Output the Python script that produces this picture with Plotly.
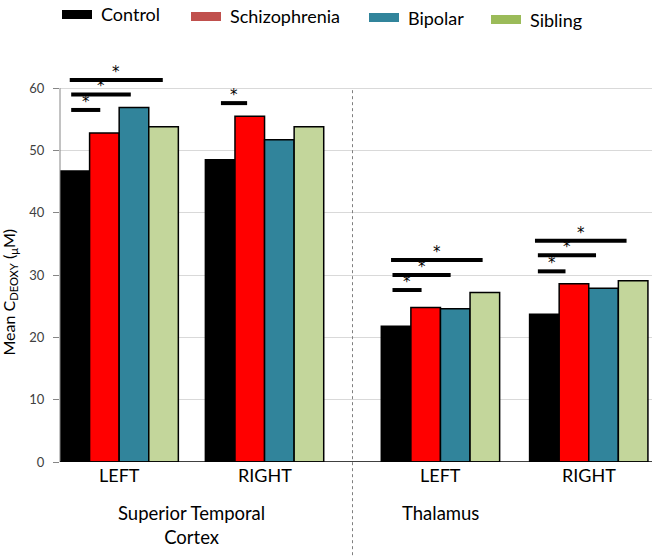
import plotly.graph_objects as go

# ---------------- data ----------------
groups = ["LEFT", "RIGHT", "LEFT", "RIGHT"]
group_pos = [0.0, 1.0, 2.21, 3.23]
regions = ["Superior Temporal<br>Cortex", "Thalamus"]
region_pos = [0.5, 2.21]

series_names = ["Control", "Schizophrenia", "Bipolar", "Sibling"]
control = [46.7, 48.5, 21.8, 23.7]
schizophrenia = [52.8, 55.5, 24.8, 28.6]
bipolar = [56.9, 51.7, 24.6, 27.9]
sibling = [53.8, 53.8, 27.2, 29.1]

bar_colors = ["#000000", "#FF0000", "#31849B", "#C3D69B"]
legend_colors = ["#000000", "#C0504D", "#31849B", "#9BBB59"]

# significance bars: (group index, x0 offset, x1 offset, y)
sig_bars = [
    (0, -0.33, -0.13, 56.5),
    (0, -0.33, 0.08, 59.0),
    (0, -0.34, 0.30, 61.3),
    (1, -0.30, -0.12, 57.6),
    (2, -0.33, -0.13, 27.6),
    (2, -0.33, 0.07, 30.0),
    (2, -0.34, 0.29, 32.4),
    (3, -0.35, -0.16, 30.6),
    (3, -0.35, 0.05, 33.2),
    (3, -0.37, 0.26, 35.5),
]

yticks = [0, 10, 20, 30, 40, 50, 60]

FONT = "Lato"
XMIN, XMAX = -0.407, 3.665
YMIN, YMAX = 0, 65

fig = go.Figure()
all_series = [control, schizophrenia, bipolar, sibling]
for name, vals, col in zip(series_names, all_series, bar_colors):
    fig.add_trace(go.Bar(
        x=group_pos, y=vals, name=name,
        marker=dict(color=col, line=dict(color="#000000", width=1.5)),
        showlegend=False,
    ))

shapes = []
annotations = []

# significance lines + stars
for gi, a, b, yv in sig_bars:
    x0 = group_pos[gi] + a
    x1 = group_pos[gi] + b
    shapes.append(dict(type="line", xref="x", yref="y", x0=x0, x1=x1, y0=yv, y1=yv,
                       line=dict(color="#000000", width=4)))
    annotations.append(dict(x=(x0 + x1) / 2, y=yv, xref="x", yref="y", text="*",
                            showarrow=False, yanchor="middle", yshift=8,
                            font=dict(family="DejaVu Sans", size=15, color="#000000")))

# y axis line (only 0..60)
shapes.append(dict(type="line", xref="paper", yref="y", x0=0, x1=0, y0=0, y1=max(yticks),
                   line=dict(color="#868686", width=1)))
# x axis line
shapes.append(dict(type="line", xref="paper", yref="y", x0=0, x1=1, y0=0, y1=0,
                   line=dict(color="#000000", width=1.5), layer="above"))

# dotted divider between regions
xdiv = (group_pos[1] + group_pos[2]) / 2
pdiv = (xdiv - XMIN) / (XMAX - XMIN)
shapes.append(dict(type="line", xref="paper", yref="paper", x0=pdiv, x1=pdiv,
                   y0=max(yticks) / YMAX - 0.005, y1=-0.24,
                   line=dict(color="#7F7F7F", width=1, dash="dot")))

# x category labels
for gx, lab in zip(group_pos, groups):
    annotations.append(dict(x=gx, y=-0.032, xref="x", yref="paper", text=lab,
                            showarrow=False, yanchor="middle",
                            font=dict(family=FONT, size=18, color="#000000")))
for rx, lab in zip(region_pos, regions):
    annotations.append(dict(x=rx, y=-0.095, xref="x", yref="paper", text=lab,
                            showarrow=False, yanchor="top",
                            font=dict(family=FONT, size=18.5, color="#000000")))

# y-axis title
annotations.append(dict(x=-0.085, y=0.42, xref="paper", yref="paper",
                        text="Mean C<sub>DEOXY</sub> (<sub>μ</sub>M)", textangle=-90,
                        xanchor="center", yanchor="middle",
                        showarrow=False, font=dict(family=FONT, size=16, color="#000000")))

# custom legend (swatch colours differ from bar colours)
W, H = 592.0, 405.0
def px2paper(px, py):
    return (px - 60) / W, (462 - py) / H

leg_items = [(62, 10, 99), (191, 12, 228), (369, 13, 406), (491, 15, 528)]
for (sx, sy, tx), name, col in zip(leg_items, series_names, legend_colors):
    x0, y1 = px2paper(sx, sy)
    x1, y0 = px2paper(sx + 30, sy + 9)
    shapes.append(dict(type="rect", xref="paper", yref="paper", x0=x0, x1=x1, y0=y0, y1=y1,
                       fillcolor=col, line=dict(width=0)))
    txx, tyy = px2paper(tx, sy + 4.5)
    annotations.append(dict(x=txx, y=tyy, xref="paper", yref="paper", text=name,
                            showarrow=False, xanchor="left", yanchor="middle",
                            font=dict(family=FONT, size=18, color="#000000")))

fig.update_layout(
    width=654, height=557,
    margin=dict(l=60, r=2, t=57, b=95),
    paper_bgcolor="white", plot_bgcolor="white",
    barmode="group", bargap=0.186, bargroupgap=0,
    shapes=shapes, annotations=annotations,
    showlegend=False,
    xaxis=dict(range=[XMIN, XMAX], showticklabels=False, showgrid=False, zeroline=False,
               showline=False, ticks="", automargin=False),
    yaxis=dict(range=[YMIN, YMAX], tickvals=yticks, showgrid=True, gridcolor="#D9D9D9",
               gridwidth=1, zeroline=False, showline=False, ticks="outside", ticklen=6,
               tickcolor="#868686", ticklabelstandoff=6, automargin=False,
               tickfont=dict(family=FONT, size=13, color="#404040")),
    font=dict(family=FONT),
)

fig.write_html("out.html", config={"displayModeBar": False},
               post_script="document.body.style.margin='0';document.body.style.overflow='hidden';")
